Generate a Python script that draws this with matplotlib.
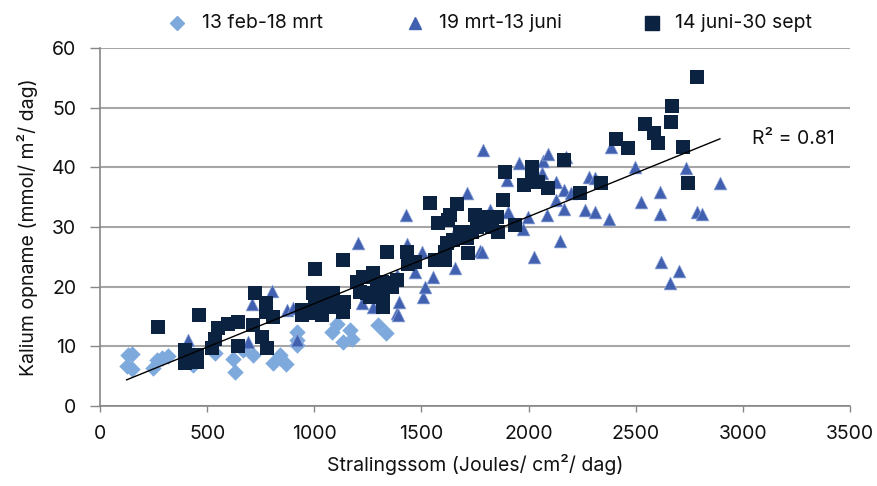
import numpy as np
import matplotlib
matplotlib.use("Agg")
import matplotlib.pyplot as plt
from matplotlib.lines import Line2D

plt.rcParams['font.family'] = ['Inter', 'DejaVu Sans']

# 13 feb-18 mrt
feb_x = [124, 130, 148, 148, 248, 264, 288, 318, 435, 537, 622, 630, 668, 715, 808, 840, 868,
         918, 918, 918, 1083, 1106, 1134, 1167, 1176, 1298, 1334]
feb_y = [6.7, 8.5, 8.7, 6.2, 6.4, 7.7, 8.0, 8.4, 6.9, 8.9, 7.8, 5.7, 9.4, 8.5, 7.2, 8.5, 7.0,
         12.4, 11.0, 10.2, 12.4, 13.7, 10.7, 12.7, 11.2, 13.6, 12.2]

# 19 mrt-13 juni
mrt_x = [411, 691, 708, 801, 872, 902, 918, 1205, 1222, 1274, 1385, 1385, 1395, 1390, 1428, 1433,
         1470, 1502, 1507, 1517, 1555, 1648, 1657, 1713, 1773, 1783, 1787, 1820, 1899, 1902, 1955,
         1974, 1997, 2025, 2063, 2068, 2086, 2090, 2128, 2128, 2147, 2165, 2165, 2175, 2198, 2263,
         2280, 2310, 2310, 2373, 2384, 2497, 2524, 2613, 2613, 2618, 2660, 2700, 2735, 2786, 2810,
         2893]
mrt_y = [11.1, 10.7, 17.1, 19.2, 16.1, 16.4, 11.1, 27.3, 17.3, 16.6, 22.0, 15.6, 17.4, 15.3, 32.0, 27.2,
         22.5, 25.8, 18.3, 20.0, 21.6, 28.5, 23.1, 35.7, 26.0, 25.8, 42.9, 32.8, 37.8, 32.5, 40.8,
         29.6, 31.7, 25.0, 39.0, 41.0, 32.0, 42.2, 37.5, 34.5, 27.7, 36.2, 33.0, 41.7, 35.7, 32.8,
         38.4, 38.2, 32.5, 31.4, 43.4, 40.1, 34.2, 35.9, 32.1, 24.2, 20.6, 22.6, 39.9, 32.5, 32.2,
         37.4]

# 14 juni-30 sept
jun_x = [271, 397, 397, 452, 452, 462, 521, 537, 551, 597, 644, 644, 714, 723, 756, 775, 775, 779,
         808, 943, 943, 989, 994, 1003, 1003, 1036, 1041, 1059, 1087, 1106, 1134, 1134, 1140, 1199,
         1213, 1227, 1246, 1260, 1274, 1292, 1316, 1321, 1321, 1339, 1339, 1362, 1386, 1433, 1437,
         1470, 1540, 1563, 1577, 1610, 1610, 1619, 1624, 1633, 1648, 1666, 1680, 1713, 1717, 1736,
         1750, 1759, 1797, 1797, 1806, 1829, 1853, 1857, 1881, 1890, 1937, 1979, 2016, 2016, 2044,
         2091, 2165, 2240, 2338, 2408, 2466, 2543, 2585, 2604, 2665, 2669, 2721, 2744, 2786]
jun_y = [13.3, 9.4, 7.2, 8.5, 7.4, 15.3, 9.7, 11.2, 13.0, 13.8, 14.1, 10.1, 13.6, 18.9, 11.6, 17.3, 15.7, 9.8,
         15.0, 16.1, 15.2, 15.6, 18.9, 23.0, 17.3, 15.3, 18.9, 16.6, 18.9, 16.6, 24.4, 15.8, 17.5, 20.8,
         19.1, 21.6, 18.9, 18.3, 22.3, 20.3, 20.8, 18.5, 16.6, 25.8, 20.6, 20.0, 21.1, 25.8, 23.8,
         24.1, 34.0, 24.5, 30.7, 24.5, 25.8, 27.3, 31.2, 32.0, 27.8, 33.9, 29.2, 28.1, 25.7, 29.2,
         32.0, 30.0, 31.7, 30.3, 30.7, 30.0, 31.7, 29.2, 34.5, 39.2, 30.3, 37.0, 40.0, 39.0, 37.5,
         36.6, 41.3, 35.7, 37.4, 44.7, 43.2, 47.2, 45.7, 44.1, 47.6, 50.3, 43.4, 37.4, 55.1]

labels = ['13 feb-18 mrt', '19 mrt-13 juni', '14 juni-30 sept']
r2_label = 'R² = 0.81'

W, H = 877, 486
fig = plt.figure(figsize=(W / 100, H / 100), dpi=100)
ax = fig.add_axes([100 / W, 80 / H, 750 / W, 358 / H])

c_feb = '#7DA9DC'
c_mrt = '#4161B0'
c_jun = '#0B2341'
fs = 14

ax.scatter(feb_x, feb_y, marker='D', s=70, color=c_feb, linewidths=0, zorder=3)
ax.scatter(mrt_x, mrt_y, marker='^', s=85, color=c_mrt, edgecolors='#8FA5D8', linewidths=0.5, zorder=3)
ax.scatter(jun_x, jun_y, marker='s', s=110, color=c_jun, linewidths=0, zorder=4)

# linear trendline over all data
allx = np.array(feb_x + mrt_x + jun_x, dtype=float)
ally = np.array(feb_y + mrt_y + jun_y, dtype=float)
b, a = np.polyfit(allx, ally, 1)
xs = np.array([allx.min(), allx.max()])
ax.plot(xs, a + b * xs, color='black', lw=1.0, zorder=5)
ax.text(3043, 44.7, r2_label, fontsize=fs, ha='left', va='center', color='#111111')

ax.set_xlim(0, 3500)
ax.set_ylim(0, 60)
ax.set_xticks(np.arange(0, 3501, 500))
ax.set_yticks(np.arange(0, 61, 10))
ax.tick_params(axis='x', labelsize=fs, colors='#868686', labelcolor='#111111',
               length=4.5, width=1, direction='out', pad=9)
ax.tick_params(axis='y', labelsize=fs, colors='#868686', labelcolor='#111111',
               length=7, width=1, direction='out', pad=10)
ax.grid(axis='y', color='#A6A6A6', lw=1.5)
ax.set_axisbelow(True)
for s in ['top', 'right']:
    ax.spines[s].set_visible(False)
for s in ['left', 'bottom']:
    ax.spines[s].set_color('#868686')
    ax.spines[s].set_linewidth(1.2)

ax.set_xlabel('Stralingssom (Joules/ cm²/ dag)', fontsize=fs, color='#111111', labelpad=8)
ax.set_ylabel('Kalium opname (mmol/ m²/ dag)', fontsize=fs, color='#111111', labelpad=10)

# legend drawn in figure pixel positions
leg_y = 1 - 23 / H
leg_items = [('D', c_feb, 7, 177, 202), ('^', c_mrt, 8.5, 415, 439), ('s', c_jun, 10, 652, 675)]
for (mk, col, ms, mx, tx), lab in zip(leg_items, labels):
    fig.add_artist(Line2D([mx / W], [leg_y], marker=mk, color=col, markersize=ms,
                          linestyle='none', transform=fig.transFigure))
    fig.text(tx / W, leg_y, lab, fontsize=fs, ha='left', va='center', color='#111111')

fig.savefig('out.png', dpi=100)
